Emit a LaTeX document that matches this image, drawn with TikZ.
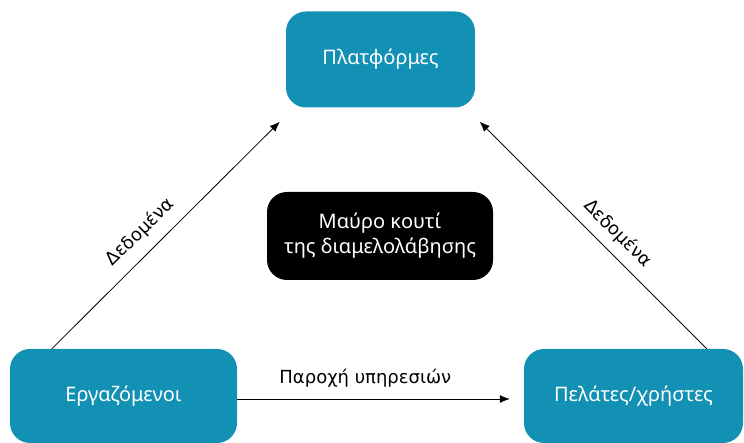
\documentclass[tikz,border=0pt]{standalone}
\usepackage{fontspec}
\setmainfont{Noto Sans}
\newfontfamily\labelfont{DejaVu Sans}
\usetikzlibrary{arrows.meta}
\definecolor{teal1}{RGB}{19,145,180}
\tikzstyle{role}=[fill=teal1,text=white,rounded corners=20pt,font=\fontsize{20}{24}\selectfont,inner sep=0pt]
\tikzstyle{blackbox}=[fill=black,text=white,rounded corners=20pt,font=\fontsize{20}{25}\selectfont,align=center,inner sep=0pt]
\tikzstyle{flow}=[draw=black,line width=0.8pt,-{Latex[length=10pt,width=8pt]}]
\tikzstyle{flowlabel}=[font=\labelfont\fontsize{18}{21}\selectfont,inner sep=0pt]
\begin{document}
\begin{tikzpicture}[x=1pt,y=1pt]
\useasboundingbox (0,0) rectangle (744,443);
\node[role,minimum width=189pt,minimum height=96pt] (plat) at (380.5,383.5) {Πλατφόρμες};
\node[role,minimum width=227pt,minimum height=94pt] (emp) at (123.5,47) {Εργαζόμενοι};
\node[role,minimum width=219pt,minimum height=94pt] (cli) at (633.5,47) {Πελάτες/χρήστες};
\node[blackbox,minimum width=226pt,minimum height=88pt] (bbox) at (380,207) {Μαύρο κουτί\\της διαμελολάβησης};
\coordinate (empout) at ([xshift=42pt]emp.north west);
\coordinate (platinl) at ([xshift=-6pt,yshift=-14pt]plat.south west);
\coordinate (cliout) at ([xshift=183pt]cli.north west);
\coordinate (platinr) at ([xshift=4.5pt,yshift=-14pt]plat.south east);
\coordinate (empsrv) at ([yshift=-3pt]emp.east);
\coordinate (clisrv) at ([xshift=-14pt,yshift=-3pt]cli.west);
\draw[flow] (empout) -- node[flowlabel,sloped,above=11pt,pos=0.45]{Δεδομένα} (platinl);
\draw[flow] (cliout) -- node[flowlabel,sloped,above=9pt,pos=0.45]{Δεδομένα} (platinr);
\draw[flow] (empsrv) -- node[flowlabel,above=11pt,pos=0.47]{Παροχή υπηρεσιών} (clisrv);
\end{tikzpicture}
\end{document}
